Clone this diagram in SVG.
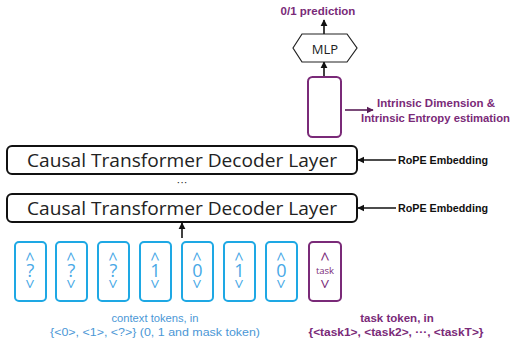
<svg xmlns="http://www.w3.org/2000/svg" width="512" height="341" viewBox="0 0 512 341">
<style>
.layer{fill:#fff;stroke:#111;stroke-width:2}
.ltxt{font-family:"Open Sans","Liberation Sans",sans-serif;font-size:19px;fill:#222;text-anchor:middle}
.rope{font-family:"Liberation Sans",sans-serif;font-weight:bold;font-size:11px;fill:#111}
.tok{fill:#fff;stroke:#1ea8e4;stroke-width:2}
.ttxt{font-family:"Open Sans","Liberation Sans",sans-serif;fill:#47a8e6;text-anchor:middle;font-size:18px}
.chev{font-family:"Open Sans","Liberation Sans",sans-serif;fill:#47a8e6;text-anchor:middle;font-size:17px;dominant-baseline:central}
.chevp{font-family:"Open Sans","Liberation Sans",sans-serif;fill:#7a2a78;text-anchor:middle;font-size:17px;dominant-baseline:central}
.task{fill:#fff;stroke:#7a2a78;stroke-width:2}
.ptxt{font-family:"Liberation Sans",sans-serif;font-weight:bold;fill:#7a2a78;text-anchor:middle}
.btxt{font-family:"Liberation Sans",sans-serif;fill:#4b97d6;text-anchor:middle;font-size:11.2px}
.conn{stroke:#111;stroke-width:1.6;fill:none}
</style>
<defs>
<marker id="ah" viewBox="0 0 10 10" refX="9" refY="5" markerWidth="4.5" markerHeight="4.5" orient="auto"><path d="M0,0L10,5L0,10z" fill="#111"/></marker>
<marker id="ahp" viewBox="0 0 10 10" refX="9" refY="5" markerWidth="4.5" markerHeight="4.5" orient="auto"><path d="M0,0L10,5L0,10z" fill="#5a1e58"/></marker>
</defs>

<g id="connectors">
<line class="conn" x1="324" y1="34" x2="324" y2="20" marker-end="url(#ah)"/>
<line class="conn" x1="324" y1="77" x2="324" y2="62" marker-end="url(#ah)"/>
<line x1="345" y1="110" x2="373" y2="110" stroke="#5a1e58" stroke-width="1.6" marker-end="url(#ahp)"/>
<line class="conn" x1="396" y1="160" x2="358" y2="160" marker-end="url(#ah)"/>
<line class="conn" x1="396" y1="208" x2="358" y2="208" marker-end="url(#ah)"/>
<line class="conn" x1="182" y1="238" x2="182" y2="223" marker-end="url(#ah)"/>
</g>

<g id="prediction"><text class="ptxt" x="318" y="15" font-size="11.5">0/1 prediction</text></g>

<g id="mlp">
<polygon points="293,48 302,34 347,34 357,48 347,62 302,62" fill="#fff" stroke="#222" stroke-width="1.2"/>
<text x="325" y="53.5" font-family="'Open Sans','Liberation Sans',sans-serif" font-size="13" fill="#222" text-anchor="middle">MLP</text>
</g>

<g id="output-token"><rect class="task" x="308" y="77" width="33" height="60" rx="4.5"/></g>

<g id="intrinsic">
<text class="ptxt" x="436" y="107" font-size="11.5" textLength="118" lengthAdjust="spacingAndGlyphs">Intrinsic Dimension &amp;</text>
<text class="ptxt" x="435.5" y="122" font-size="11.5" textLength="149" lengthAdjust="spacingAndGlyphs">Intrinsic Entropy estimation</text>
</g>

<g id="layer-top">
<rect class="layer" x="7" y="146" width="350" height="28" rx="5"/>
<text class="ltxt" x="182" y="167" textLength="310" lengthAdjust="spacingAndGlyphs">Causal Transformer Decoder Layer</text>
</g>
<g id="rope-top"><text class="rope" x="398" y="164" textLength="90" lengthAdjust="spacingAndGlyphs">RoPE Embedding</text></g>

<g id="dots"><text x="182" y="186" font-family="'Liberation Sans',sans-serif" font-size="11" fill="#222" text-anchor="middle">···</text></g>

<g id="layer-bottom">
<rect class="layer" x="7" y="194" width="350" height="28" rx="5"/>
<text class="ltxt" x="182" y="215" textLength="310" lengthAdjust="spacingAndGlyphs">Causal Transformer Decoder Layer</text>
</g>
<g id="rope-bottom"><text class="rope" x="398" y="212" textLength="90" lengthAdjust="spacingAndGlyphs">RoPE Embedding</text></g>

<g id="tok1"><rect class="tok" x="15" y="242" width="31" height="59" rx="4"/><text class="chev" transform="translate(30.5,256.5) rotate(90)">&lt;</text><text class="ttxt" x="30.5" y="277">?</text><text class="chev" transform="translate(30.5,284) rotate(90)">&gt;</text></g>
<g id="tok2"><rect class="tok" x="56" y="242" width="31" height="59" rx="4"/><text class="chev" transform="translate(71.5,256.5) rotate(90)">&lt;</text><text class="ttxt" x="71.5" y="277">?</text><text class="chev" transform="translate(71.5,284) rotate(90)">&gt;</text></g>
<g id="tok3"><rect class="tok" x="98" y="242" width="31" height="59" rx="4"/><text class="chev" transform="translate(113.5,256.5) rotate(90)">&lt;</text><text class="ttxt" x="113.5" y="277">?</text><text class="chev" transform="translate(113.5,284) rotate(90)">&gt;</text></g>
<g id="tok4"><rect class="tok" x="140" y="242" width="31" height="59" rx="4"/><text class="chev" transform="translate(155.5,256.5) rotate(90)">&lt;</text><text class="ttxt" x="155.5" y="277">1</text><text class="chev" transform="translate(155.5,284) rotate(90)">&gt;</text></g>
<g id="tok5"><rect class="tok" x="182" y="242" width="31" height="59" rx="4"/><text class="chev" transform="translate(197.5,256.5) rotate(90)">&lt;</text><text class="ttxt" x="197.5" y="277">0</text><text class="chev" transform="translate(197.5,284) rotate(90)">&gt;</text></g>
<g id="tok6"><rect class="tok" x="224" y="242" width="31" height="59" rx="4"/><text class="chev" transform="translate(239.5,256.5) rotate(90)">&lt;</text><text class="ttxt" x="239.5" y="277">1</text><text class="chev" transform="translate(239.5,284) rotate(90)">&gt;</text></g>
<g id="tok7"><rect class="tok" x="266" y="242" width="31" height="59" rx="4"/><text class="chev" transform="translate(281.5,256.5) rotate(90)">&lt;</text><text class="ttxt" x="281.5" y="277">0</text><text class="chev" transform="translate(281.5,284) rotate(90)">&gt;</text></g>
<g id="task-token"><rect class="task" x="309" y="242" width="32" height="59" rx="4"/><text class="chevp" transform="translate(325,256.5) rotate(90)">&lt;</text><text x="325" y="274" font-family="'Open Sans','Liberation Sans',sans-serif" font-size="9.5" fill="#7a2a78" text-anchor="middle">task</text><text class="chevp" transform="translate(325,284) rotate(90)">&gt;</text></g>

<g id="context-label">
<text class="btxt" x="155" y="322">context tokens, in</text>
<text class="btxt" x="155" y="335.5" textLength="210" lengthAdjust="spacingAndGlyphs">{&lt;0&gt;, &lt;1&gt;, &lt;?&gt;} (0, 1 and mask token)</text>
</g>
<g id="task-label">
<text class="ptxt" x="397" y="322" font-size="11.5">task token, in</text>
<text class="ptxt" x="396" y="335.5" font-size="11.5" textLength="175" lengthAdjust="spacingAndGlyphs">{&lt;task1&gt;, &lt;task2&gt;, ···, &lt;taskT&gt;}</text>
</g>
</svg>
